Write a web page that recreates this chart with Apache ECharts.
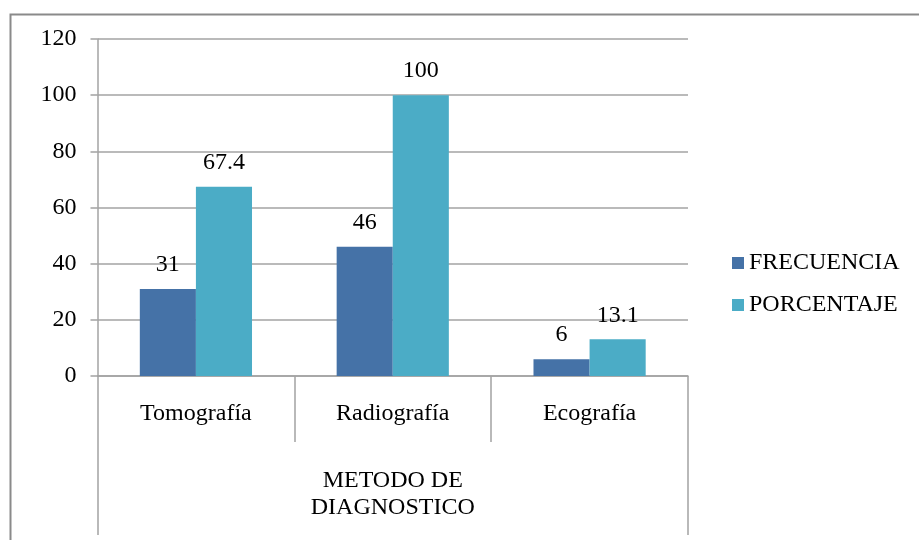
<!DOCTYPE html>
<html>
<head>
<meta charset="utf-8">
<script src="https://cdn.jsdelivr.net/npm/echarts@6/dist/echarts.min.js"></script>
<style>
  html, body { margin: 0; padding: 0; background: #ffffff; }
  #chart { width: 919px; height: 540px; }
</style>
</head>
<body>
<div id="chart"></div>
<script>
// Diagnostic methods and their counts / percentages
const categories = ['Tomografía', 'Radiografía', 'Ecografía'];
const groupLabel = ['METODO DE\nDIAGNOSTICO'];
const frecuencia = [31, 46, 6];
const porcentaje = [67.4, 100, 13.1];
const seriesNames = ['FRECUENCIA', 'PORCENTAJE'];

const FONT = '"Liberation Serif", "Times New Roman", serif';
const FS = 24;
const GRID_COLOR = '#a3a3a3';

const chart = echarts.init(document.getElementById('chart'), null, { renderer: 'canvas' });

const labelStyle = {
  show: true,
  position: 'top',
  distance: 12,
  color: '#000',
  fontFamily: FONT,
  fontSize: FS
};

chart.setOption({
  animation: false,
  backgroundColor: '#ffffff',
  graphic: [{
    type: 'rect',
    left: 8,
    top: 12,
    shape: { x: 0, y: 0, width: 1000, height: 600 },
    style: { fill: 'none', stroke: '#8a8a8a', lineWidth: 2 },
    silent: true
  }],
  grid: { left: 97.5, right: 231, top: 39, bottom: 164, containLabel: false },
  legend: {
    orient: 'vertical',
    left: 727,
    top: 246,
    itemWidth: 12,
    itemHeight: 12,
    itemGap: 18,
    icon: 'rect',
    textStyle: { fontFamily: FONT, fontSize: FS, color: '#000' },
    data: seriesNames
  },
  xAxis: [{
    type: 'category',
    data: categories,
    position: 'bottom',
    axisLine: { show: true, lineStyle: { color: GRID_COLOR, width: 1.5 } },
    axisTick: { show: true, length: 66, alignWithLabel: false, lineStyle: { color: GRID_COLOR, width: 1.5 } },
    axisLabel: { fontFamily: FONT, fontSize: FS, color: '#000', margin: 26 },
    splitLine: { show: false }
  }, {
    type: 'category',
    data: groupLabel,
    position: 'bottom',
    axisLine: { show: false },
    axisTick: { show: true, length: 159, alignWithLabel: false, lineStyle: { color: GRID_COLOR, width: 1.5 } },
    axisLabel: { fontFamily: FONT, fontSize: FS, lineHeight: 27, color: '#000', margin: 91 },
    splitLine: { show: false }
  }],
  yAxis: {
    type: 'value',
    min: 0,
    max: 120,
    interval: 20,
    axisLine: { show: true, lineStyle: { color: GRID_COLOR, width: 1.5 } },
    axisTick: { show: true, length: 7, inside: false, lineStyle: { color: GRID_COLOR, width: 1.5 } },
    axisLabel: { fontFamily: FONT, fontSize: FS, color: '#000', margin: 21 },
    splitLine: { show: true, lineStyle: { color: GRID_COLOR, width: 1.5 } }
  },
  series: [{
    name: seriesNames[0],
    type: 'bar',
    xAxisIndex: 0,
    data: frecuencia,
    barGap: '0%',
    barCategoryGap: '43%',
    itemStyle: { color: '#4572a7' },
    label: labelStyle
  }, {
    name: seriesNames[1],
    type: 'bar',
    xAxisIndex: 0,
    data: porcentaje,
    barGap: '0%',
    barCategoryGap: '43%',
    itemStyle: { color: '#4bacc6' },
    label: labelStyle
  }]
});
</script>
</body>
</html>
